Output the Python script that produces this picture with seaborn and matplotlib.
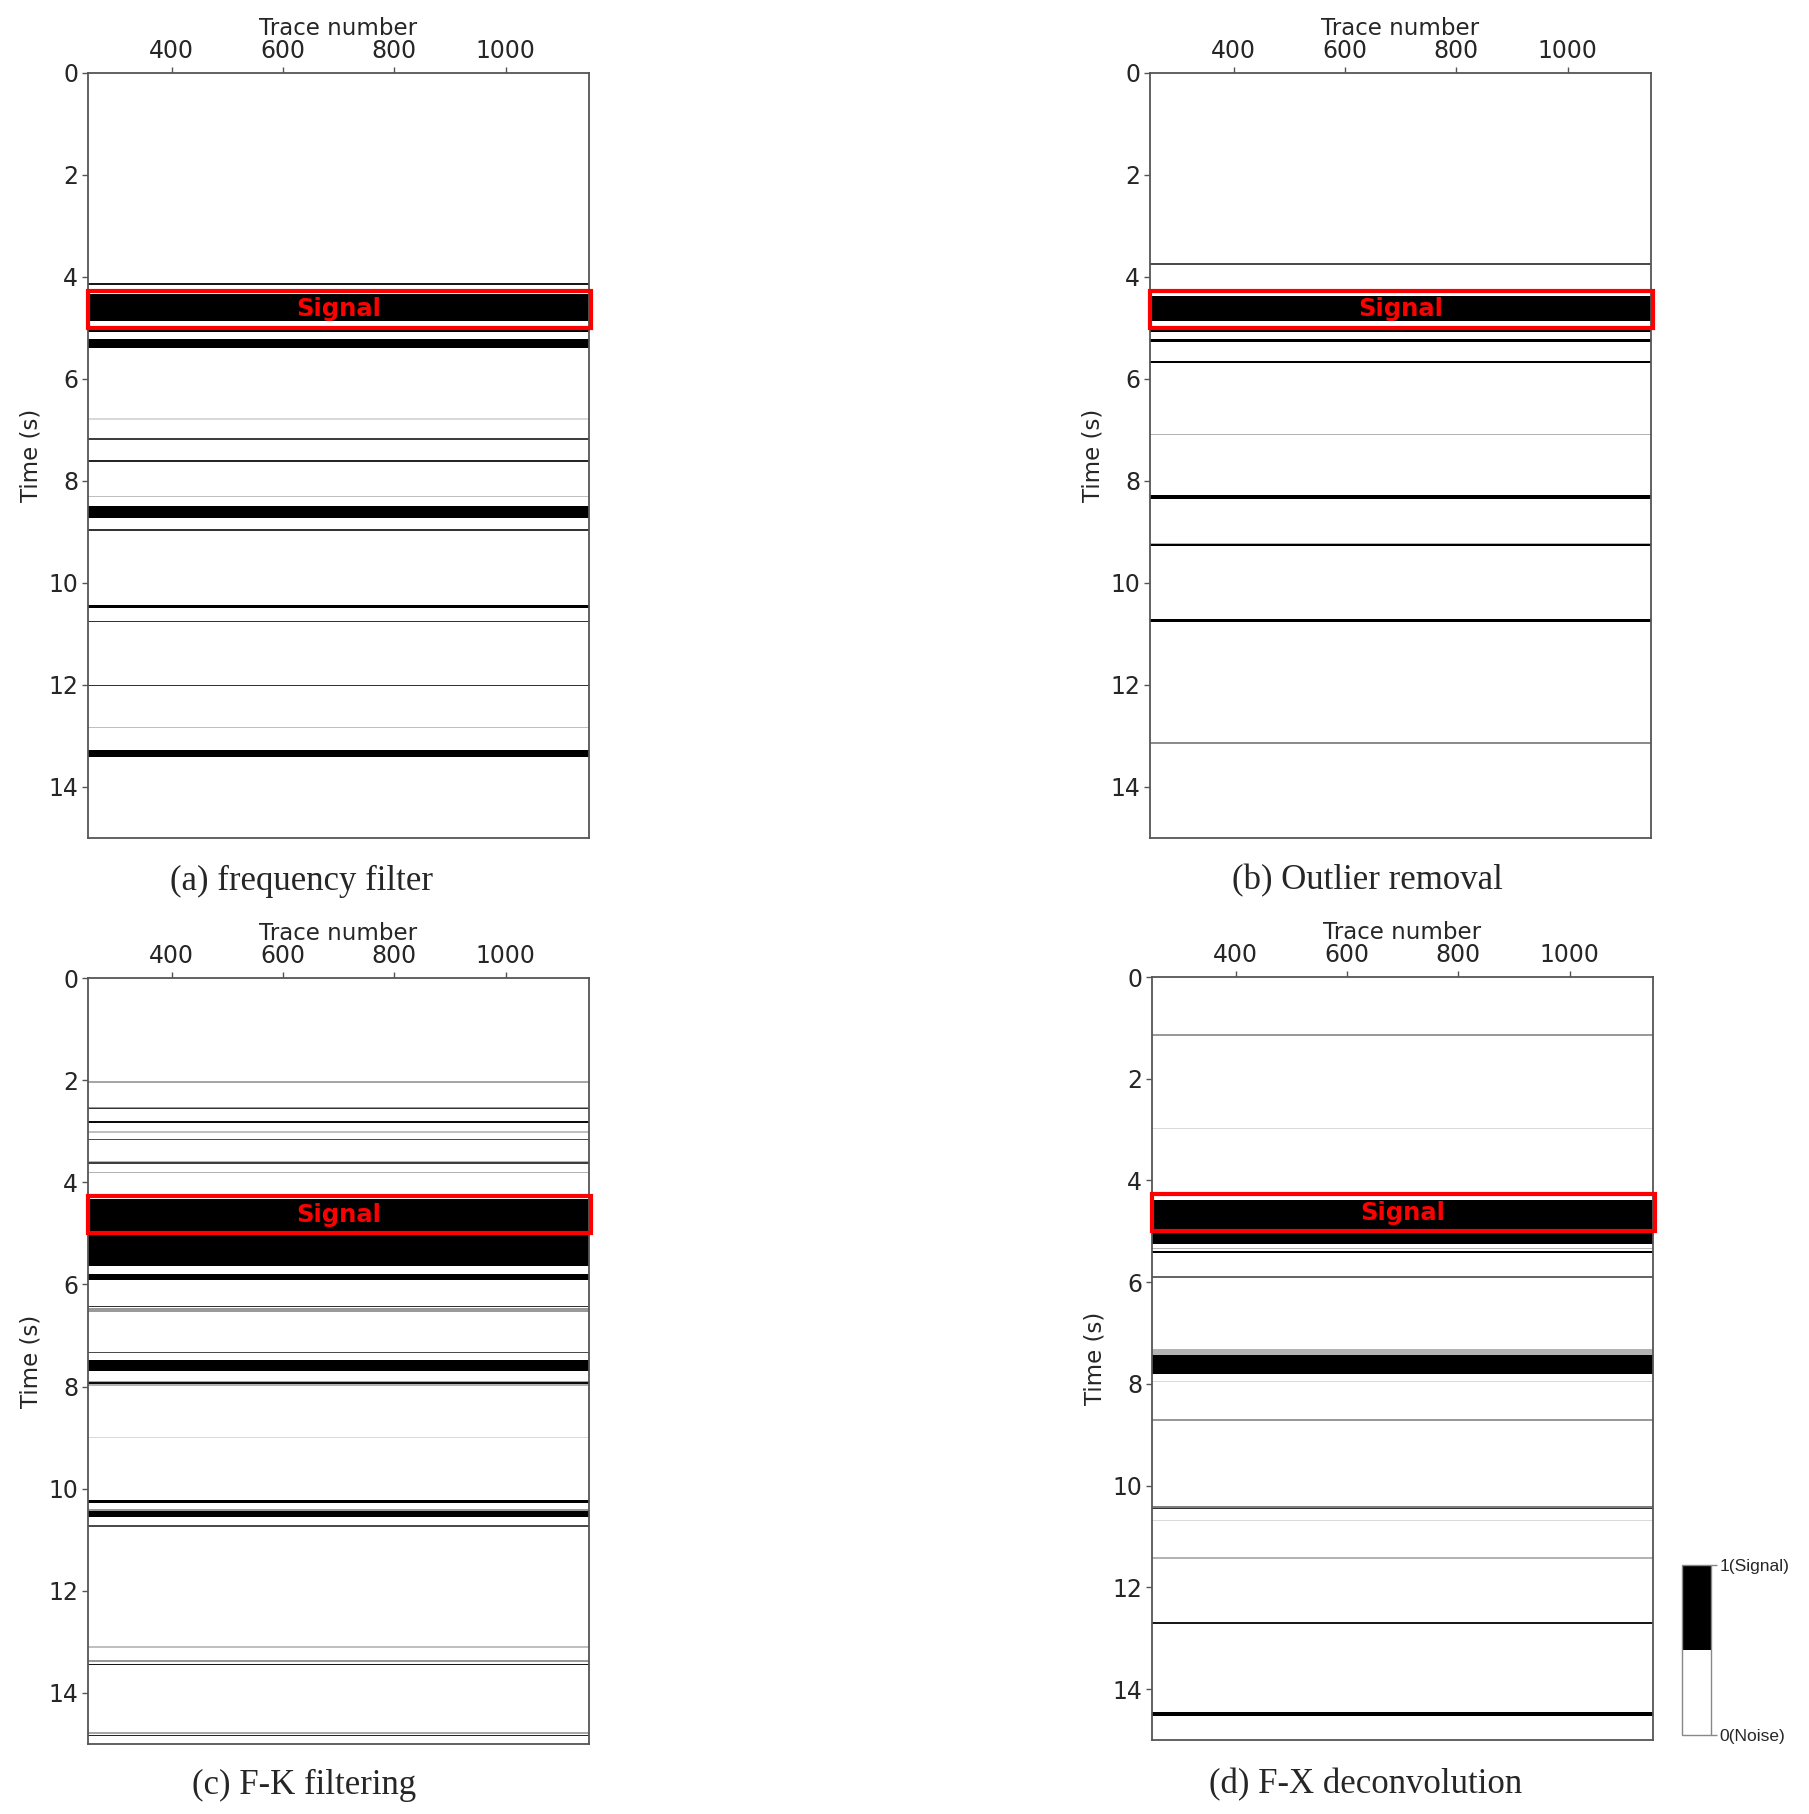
import numpy as np
import matplotlib
matplotlib.use("Agg")
import matplotlib.pyplot as plt
import seaborn as sns
from matplotlib.colors import ListedColormap, Normalize
from matplotlib.patches import Rectangle
import matplotlib.cm as cm

# ---------------- data ----------------
trace_min, trace_max = 250, 1150
time_max = 15.0
x_ticks = [400, 600, 800, 1000]
y_ticks = [0, 2, 4, 6, 8, 10, 12, 14]
captions = ["(a) frequency filter", "(b) Outlier removal",
            "(c) F-K filtering", "(d) F-X deconvolution"]
signal_top, signal_bottom = 4.27, 5.0
cbar_labels = ["0(Noise)", "1(Signal)"]

# bands of the signal mask: start time (s), end time (s), mask level (0 noise .. 1 signal)
a_start = [4.11, 4.34, 5.04, 5.22, 6.76, 7.17, 7.58, 8.30, 8.50, 8.95, 10.43, 10.74, 12.00, 12.82, 13.27]
a_end   = [4.16, 4.86, 5.09, 5.41, 6.79, 7.20, 7.62, 8.32, 8.71, 8.98, 10.50, 10.77, 12.02, 12.84, 13.42]
a_level = [0.90, 1.00, 1.00, 1.00, 0.15, 0.75, 0.85, 0.25, 1.00, 0.80, 1.00, 0.80, 0.80, 0.25, 1.00]

b_start = [3.72, 4.39, 5.04, 5.22, 5.63, 7.07, 8.28, 9.21, 9.23, 10.70, 13.13]
b_end   = [3.75, 4.86, 5.08, 5.28, 5.69, 7.09, 8.35, 9.23, 9.29, 10.76, 13.17]
b_level = [0.70, 1.00, 1.00, 1.00, 1.00, 0.30, 1.00, 0.30, 1.00, 1.00, 0.45]

c_start = [2.03, 2.52, 2.54, 2.80, 3.01, 3.15, 3.58, 3.60, 3.79, 4.32, 5.81, 6.42, 6.46, 7.31,
           7.48, 7.90, 7.92, 7.95, 8.98, 10.21, 10.41, 10.45, 10.72, 13.09, 13.37, 13.43, 14.76, 14.82]
c_end   = [2.07, 2.54, 2.57, 2.83, 3.04, 3.17, 3.60, 3.63, 3.81, 5.64, 5.92, 6.45, 6.54, 7.33,
           7.70, 7.92, 7.95, 7.98, 9.00, 10.29, 10.44, 10.56, 10.75, 13.11, 13.41, 13.46, 14.80, 14.85]
c_level = [0.35, 0.40, 0.80, 0.95, 0.25, 0.70, 0.30, 0.75, 0.30, 1.00, 1.00, 0.80, 0.40, 0.70,
           1.00, 0.35, 0.95, 0.30, 0.15, 1.00, 0.40, 1.00, 0.70, 0.25, 0.40, 0.90, 0.35, 0.85]

d_start = [1.13, 2.95, 4.38, 5.31, 5.38, 5.88, 7.33, 7.45, 7.94, 8.67, 10.40, 10.43, 10.67, 11.41, 12.69, 14.43]
d_end   = [1.16, 2.98, 5.23, 5.34, 5.42, 5.91, 7.43, 7.80, 7.96, 8.73, 10.43, 10.46, 10.69, 11.43, 12.72, 14.51]
d_level = [0.40, 0.15, 1.00, 0.30, 1.00, 0.60, 0.30, 1.00, 0.15, 0.40, 0.50, 0.80, 0.15, 0.30, 0.90, 1.00]

panels = [(a_start, a_end, a_level), (b_start, b_end, b_level),
          (c_start, c_end, c_level), (d_start, d_end, d_level)]

# ---------------- style ----------------
sns.set_theme(style="ticks")
plt.rcParams["font.family"] = ["DejaVu Sans"]

dt = 0.02
n_rows = int(round(time_max / dt))
n_cols = 9
col_width = (trace_max - trace_min) / n_cols

def build_mask(starts, ends, levels):
    col = np.zeros(n_rows)
    for s, e, lv in zip(starts, ends, levels):
        i0 = int(round(s / dt))
        i1 = max(int(round(e / dt)), i0 + 1)
        col[i0:i1] = np.maximum(col[i0:i1], lv)
    return np.tile(col[:, None], (1, n_cols))

W, H = 1809, 1814
fig = plt.figure(figsize=(W / 100, H / 100), dpi=100)

# axes rectangles in pixels: left, top, right, bottom
rects_px = [(88, 73, 589, 838), (1150, 73, 1651, 838),
            (88, 978, 589, 1744), (1152, 977, 1653, 1740)]
caption_px = [(302, 881), (1367, 881), (304, 1785), (1366, 1785)]

spine_col = "#555555"
for k, (starts, ends, levels) in enumerate(panels):
    l, t, r, b = rects_px[k]
    ax = fig.add_axes([l / W, 1 - b / H, (r - l) / W, (b - t) / H])
    data = build_mask(starts, ends, levels)
    sns.heatmap(data, ax=ax, cmap="gray_r", vmin=0, vmax=1, cbar=False,
                xticklabels=False, yticklabels=False, rasterized=True)
    for sp in ax.spines.values():
        sp.set_visible(True)
        sp.set_color(spine_col)
        sp.set_linewidth(1.3)
    ax.xaxis.tick_top()
    ax.xaxis.set_label_position("top")
    ax.set_xticks([(x - trace_min) / col_width for x in x_ticks])
    ax.set_xticklabels([str(x) for x in x_ticks], fontsize=17, rotation=0)
    ax.set_yticks([y / dt for y in y_ticks])
    ax.set_yticklabels([str(y) for y in y_ticks], fontsize=17, rotation=0)
    ax.tick_params(axis="both", length=4, width=1, color=spine_col, pad=3,
                   top=True, bottom=False, left=True, right=False)
    ax.set_xlabel("Trace number", fontsize=16.5, labelpad=3)
    ax.set_ylabel("Time (s)", fontsize=16.5, labelpad=4)
    ax.set_xlim(0, n_cols)
    ax.set_ylim(n_rows, 0)

    rect = Rectangle((0, signal_top / dt), n_cols * 1.003, (signal_bottom - signal_top) / dt,
                     fill=False, edgecolor="red", linewidth=3, clip_on=False, zorder=5)
    ax.add_patch(rect)
    ax.text(n_cols / 2, (signal_top + signal_bottom) / 2 / dt, "Signal", color="red",
            fontsize=17.5, fontweight="bold", ha="center", va="center", zorder=6)

    cx, cy = caption_px[k]
    fig.text(cx / W, 1 - cy / H, captions[k], ha="center", va="center",
             fontsize=25, family="Liberation Serif")

# colorbar
cax = fig.add_axes([1682 / W, 1 - 1735 / H, 29 / W, 170 / H])
sm = cm.ScalarMappable(norm=Normalize(0, 1), cmap=ListedColormap(["white", "black"]))
cb = fig.colorbar(sm, cax=cax, ticks=[0, 1])
cb.ax.set_yticklabels(cbar_labels, fontsize=12.5, family="Liberation Sans")
cb.outline.set_edgecolor("#888888")
cb.outline.set_linewidth(1)
cb.ax.tick_params(length=4, width=1, color="#888888", pad=2)

fig.savefig("out.png", dpi=100, facecolor="white")
